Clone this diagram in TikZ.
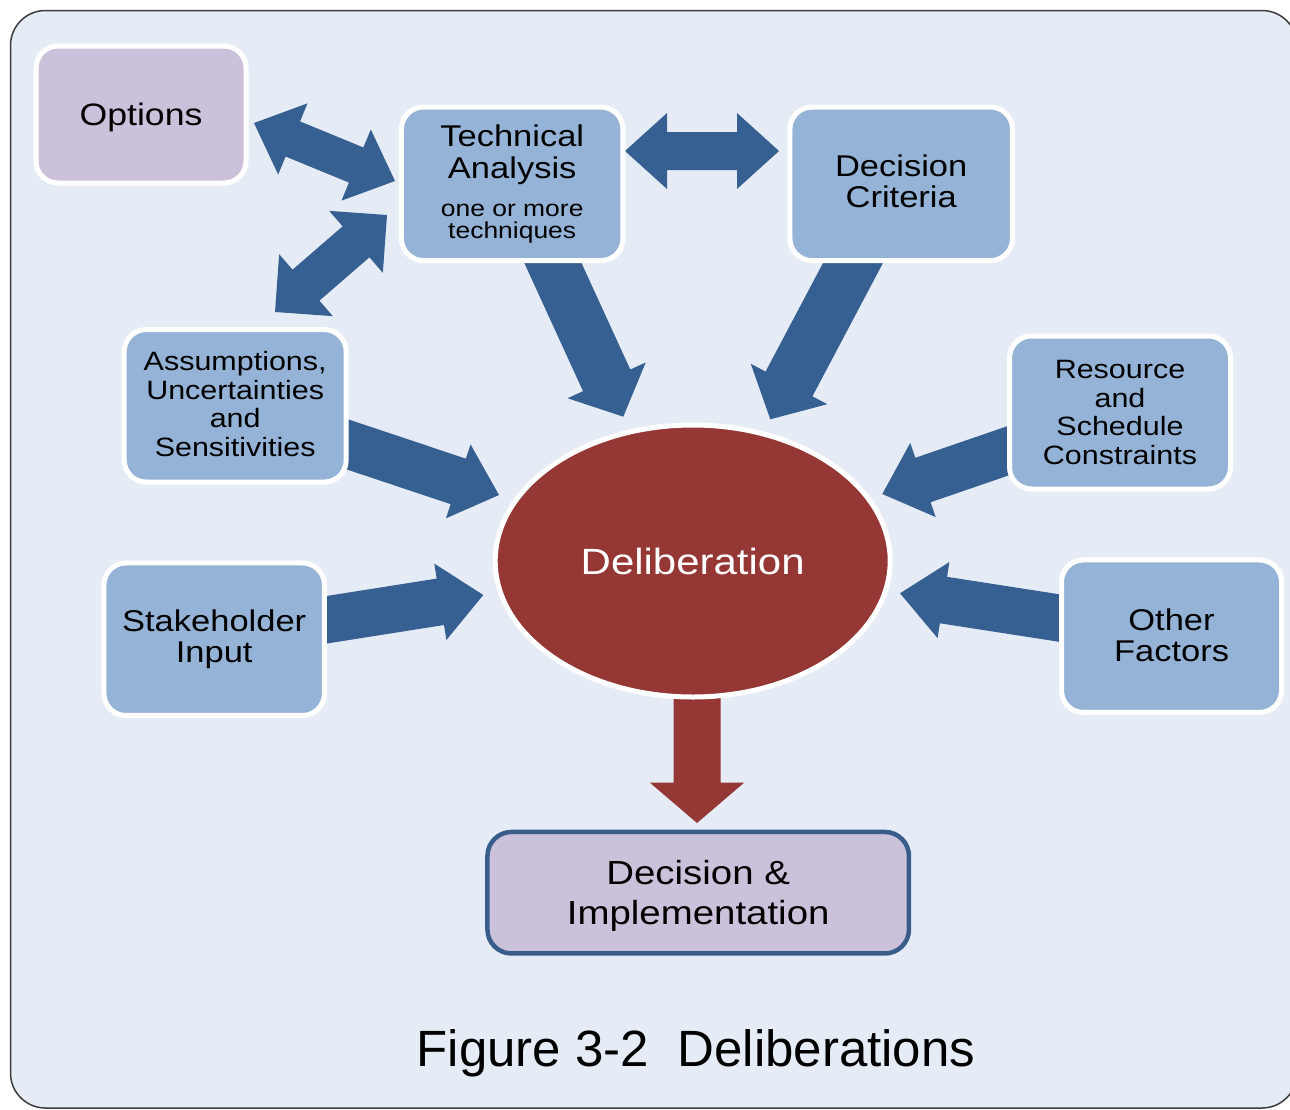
\documentclass[tikz,border=0pt]{standalone}
\usepackage{fontspec}
\setmainfont{Liberation Sans}[FakeStretch=1.15]
\newfontfamily\capfont{Liberation Sans}
\usetikzlibrary{calc,shapes.geometric}
\definecolor{bgblue}{RGB}{230,236,246}
\definecolor{framegray}{RGB}{60,60,60}
\definecolor{boxblue}{RGB}{149,179,215}
\definecolor{boxpurple}{RGB}{204,193,218}
\definecolor{arrowblue}{RGB}{55,96,146}
\definecolor{delred}{RGB}{149,55,53}
\definecolor{decborder}{RGB}{56,93,138}
\newcommand{\fsz}[2]{\fontsize{#1pt}{#2pt}\selectfont}
% single block arrow: colour, tail, tip, half shaft, half head, head length
\newcommand{\sglarrow}[6]{%
  \coordinate (bah) at ($(#3)!#6!(#2)$);
  \fill[#1] ($(#2)!#4!90:(#3)$) -- ($(bah)!#4!90:(#3)$) -- ($(bah)!#5!90:(#3)$) -- (#3)
    -- ($(bah)!#5!-90:(#3)$) -- ($(bah)!#4!-90:(#3)$) -- ($(#2)!#4!-90:(#3)$) -- cycle;}
% double block arrow: colour, tip A, tip B, half shaft, half head, head length
\newcommand{\dblarrow}[6]{%
  \coordinate (bha) at ($(#2)!#6!(#3)$);
  \coordinate (bhb) at ($(#3)!#6!(#2)$);
  \fill[#1] (#2) -- ($(bha)!#5!90:(#3)$) -- ($(bha)!#4!90:(#3)$) -- ($(bhb)!#4!90:(#3)$)
    -- ($(bhb)!#5!90:(#3)$) -- (#3) -- ($(bhb)!#5!-90:(#3)$) -- ($(bhb)!#4!-90:(#3)$)
    -- ($(bha)!#4!-90:(#3)$) -- ($(bha)!#5!-90:(#3)$) -- cycle;}
\begin{document}
\begin{tikzpicture}[x=1pt,y=-1pt,
  box/.style={rectangle, rounded corners=22pt, draw=white, line width=5pt, fill=boxblue,
    inner sep=0pt, align=center, text=black},
  purplebox/.style={box, fill=boxpurple},
  delnode/.style={ellipse, draw=white, line width=5pt, fill=delred, inner sep=0pt,
    minimum width=395pt, minimum height=272pt, text=white, font=\fsz{36.5}{40}},
  decnode/.style={rectangle, rounded corners=24pt, draw=decborder, line width=4.5pt,
    fill=boxpurple, inner sep=0pt, align=center, minimum width=421.5pt, minimum height=121.5pt,
    font=\fsz{33.4}{40}}]
\useasboundingbox (0,0) rectangle (1290,1109);
\clip (0,0) rectangle (1290,1109);
\draw[draw=framegray, line width=1.5pt, fill=bgblue, rounded corners=35pt] (10.5,10.5) rectangle (1297,1108);

% arrow end points
\coordinate (optR) at (254,123);   \coordinate (taL) at (395,181);
\coordinate (asuT) at (275,312);   \coordinate (taBL) at (387,215);
\coordinate (taR) at (625,151);    \coordinate (dcL) at (779,151);
\coordinate (taB) at (541,237);    \coordinate (delTA) at (623.3,416.7);
\coordinate (dcB) at (867,236.5);  \coordinate (delDC) at (770.3,419.3);
\coordinate (asuR) at (320.8,435.5); \coordinate (delASU) at (499,495);
\coordinate (stkR) at (298,624.3); \coordinate (delSTK) at (483.3,595);
\coordinate (resL) at (1035,441.5); \coordinate (delRES) at (882.3,494);
\coordinate (othL) at (1087.3,622.4); \coordinate (delOTH) at (900,593.3);
\coordinate (delB) at (697,680);   \coordinate (decT) at (697,823);

% connectors
\dblarrow{arrowblue}{optR}{taL}{19pt}{38.5pt}{42pt}
\dblarrow{arrowblue}{asuT}{taBL}{20.5pt}{41pt}{41pt}
\dblarrow{arrowblue}{taR}{dcL}{19pt}{38pt}{42pt}
\sglarrow{arrowblue}{taB}{delTA}{26pt}{43pt}{40pt}
\sglarrow{arrowblue}{dcB}{delDC}{26.5pt}{43.3pt}{40pt}
\sglarrow{arrowblue}{asuR}{delASU}{24pt}{39pt}{43pt}
\sglarrow{arrowblue}{stkR}{delSTK}{23.5pt}{38.7pt}{43.5pt}
\sglarrow{arrowblue}{resL}{delRES}{23.5pt}{39.2pt}{43pt}
\sglarrow{arrowblue}{othL}{delOTH}{23.5pt}{38.5pt}{44pt}
\sglarrow{delred}{delB}{decT}{23.5pt}{47.3pt}{40.5pt}

% nodes
\node[purplebox, minimum width=210pt, minimum height=137pt, font=\fsz{31}{34}, text depth=0pt] (opt) at (141,114.5) {Options};
\node[box, minimum width=221.5pt, minimum height=153.5pt, font=\fsz{30}{32}] (ta) at (512.2,183.8)
  {Technical\\Analysis\\[6pt]{\fsz{23}{22}one or more}\\[-10pt]{\fsz{23}{22}techniques}};
\node[box, minimum width=222.5pt, minimum height=153.5pt, font=\fsz{30}{31}, text depth=6pt] (dc) at (901.2,183.8)
  {Decision\\Criteria};
\node[box, minimum width=222pt, minimum height=152.5pt, font=\fsz{26.5}{28.5}, text depth=4pt] (asu) at (235.2,405.8)
  {Assumptions,\\Uncertainties\\and\\Sensitivities};
\node[box, minimum width=220.5pt, minimum height=152.5pt, font=\fsz{30}{31}] (stk) at (214.2,639.2)
  {Stakeholder\\Input};
\node[box, minimum width=221pt, minimum height=153pt, font=\fsz{26.5}{28.7}] (res) at (1120,412.5)
  {Resource\\and\\Schedule\\Constraints};
\node[box, minimum width=220pt, minimum height=152.5pt, font=\fsz{30}{30.3}, text depth=2pt] (oth) at (1171.5,636.2)
  {Other\\Factors};
\node[delnode] (del) at (692.7,561) {Deliberation};
\node[decnode, text depth=0pt] (dec) at (698.2,892.7) {Decision \&\\Implementation};
\node[anchor=base, font=\capfont\fsz{51}{56}] (cap) at (696,1066) {Figure 3-2\ \ Deliberations};
\end{tikzpicture}
\end{document}
